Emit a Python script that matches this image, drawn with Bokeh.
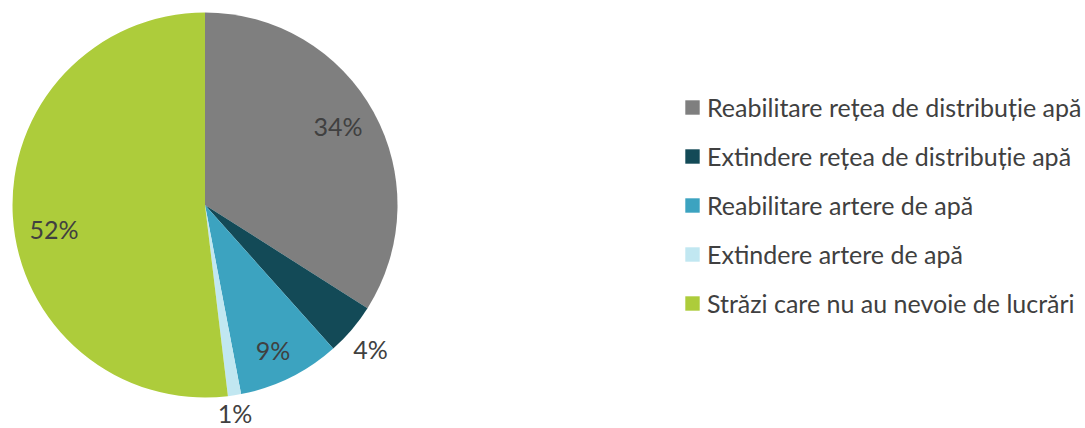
import math
from bokeh.plotting import figure
from bokeh.models import Range1d, ColumnDataSource, Legend, LegendItem
from bokeh.core.properties import value
from bokeh.embed import file_html
from bokeh.resources import INLINE

# ---- data ----
categories = [
    "Reabilitare rețea de distribuție apă",
    "Extindere rețea de distribuție apă",
    "Reabilitare artere de apă",
    "Extindere artere de apă",
    "Străzi care nu au nevoie de lucrări",
]
shares = [34.0, 4.4, 8.6, 1.1, 51.9]
colors = ["#7f7f7f", "#134a57", "#3ca3c0", "#c1e7f1", "#adcc3b"]

# ---- style ----
label_radius = [0.798, 1.148, 0.84, 1.10, 0.796]
label_angle_shift = [-1.3, 1.2, 1.4, 0.7, -6.2]  # degrees, clockwise positive
FONT = "Lato"
TEXT_COLOR = "#404040"

W, H = 1085, 428
p = figure(width=W, height=H, output_backend="svg", toolbar_location=None,
           x_range=Range1d(0, W), y_range=Range1d(-H, 0),
           min_border=0, outline_line_color=None)
p.axis.visible = False
p.grid.visible = False
p.background_fill_color = "white"
p.border_fill_color = "white"

cx, cy, R = 204.5, -204.5, 192.5
total = sum(shares)
starts, ends, lx, ly, labels = [], [], [], [], []
cum = 0.0
for i, v in enumerate(shares):
    a0 = cum / total
    cum += v
    a1 = cum / total
    # clockwise from 12 o'clock
    starts.append(math.pi / 2 - 2 * math.pi * a0)
    ends.append(math.pi / 2 - 2 * math.pi * a1)
    mid_deg = 360 * (a0 + a1) / 2 + label_angle_shift[i]
    th = math.radians(mid_deg)
    r = R * label_radius[i]
    lx.append(cx + r * math.sin(th))
    ly.append(cy + r * math.cos(th))
    labels.append(f"{v:.0f}%")

src = ColumnDataSource(dict(cat=categories, start=starts, end=ends, color=colors,
                            lx=lx, ly=ly, label=labels))

w = p.wedge(x=cx, y=cy, radius=R, start_angle="start", end_angle="end",
            direction="clock", fill_color="color", line_color=None, source=src)

p.text(x="lx", y="ly", text="label", source=src, text_align="center",
       text_baseline="middle", y_offset=-2, text_font=value(FONT),
       text_font_size="25px", text_color=TEXT_COLOR)

items = [LegendItem(label=c, renderers=[w], index=i) for i, c in enumerate(categories)]
legend = Legend(items=items, location=(683, 109), padding=0, margin=0,
                border_line_color=None, background_fill_alpha=0,
                glyph_width=18, glyph_height=18, label_standoff=6,
                label_height=32, spacing=17,
                label_text_font=FONT, label_text_font_size="25px",
                label_text_color=TEXT_COLOR)
p.add_layout(legend)

open("out.html", "w").write(file_html(p, INLINE))
